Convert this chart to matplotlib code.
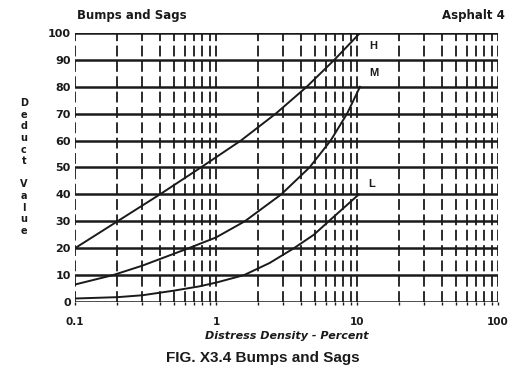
import matplotlib
matplotlib.use("Agg")
import matplotlib.pyplot as plt

# ---- data ----
density_H = [0.1, 0.2, 0.4, 0.78, 1.5, 2.65, 4.4, 6.9, 10.5]
deduct_H = [20, 30, 40, 50, 60, 70, 80, 90, 100]
density_M = [0.1, 0.186, 0.3, 0.64, 1.0, 1.6, 2.9, 4.6, 6.5, 8.5, 10.5]
deduct_M = [6.5, 10, 13.5, 20, 24, 30, 40, 50, 60, 70, 80]
density_L = [0.1, 0.2, 0.3, 0.5, 0.76, 1.0, 1.58, 2.4, 3.57, 4.94, 6.3, 10.3]
deduct_L = [1.3, 1.8, 2.5, 4.2, 5.8, 7.2, 10, 14.5, 20, 25, 30, 40]

y_ticks = [0, 10, 20, 30, 40, 50, 60, 70, 80, 90, 100]
x_ticks = [0.1, 1, 10, 100]
x_tick_labels = ["0.1", "1", "10", "100"]
curve_labels = ["H", "M", "L"]
label_pos = [(12.3, 95), (12.3, 85), (12.0, 44)]

ink = "#1a1a1a"
fam = ["Liberation Sans", "DejaVu Sans"]

fig = plt.figure(figsize=(5.10, 3.72), dpi=100)
ax = fig.add_axes([75/510, 1-302/372, 423/510, 269/372])
ax.set_xscale("log")
ax.set_xlim(0.1, 100)
ax.set_ylim(0, 100)

# vertical broken grid lines
vx = []
for dec in [0.1, 1, 10]:
    for k in range(1, 10):
        vx.append(dec * k)
vx.append(100)
for v in vx:
    ax.axvline(v, color=ink, lw=1.3, ls=(0, (6, 2.5)), zorder=1)

# horizontal solid grid lines
for yv in y_ticks:
    ax.axhline(yv, color=ink, lw=1.8, zorder=2)

for s in ax.spines.values():
    s.set_visible(False)

for dx, dy in [(density_H, deduct_H), (density_M, deduct_M), (density_L, deduct_L)]:
    ax.plot(dx, dy, color=ink, lw=1.4, zorder=3)

for lab, (lx, ly) in zip(curve_labels, label_pos):
    ax.text(lx, ly, lab, fontsize=8, fontweight="bold", color=ink,
            va="center", ha="left", family=fam)

ax.set_yticks(y_ticks)
ax.set_yticklabels([str(v) for v in y_ticks], fontsize=8, fontweight="bold",
                   family=["DejaVu Sans"], color=ink)
ax.set_xticks(x_ticks)
ax.set_xticklabels(x_tick_labels, fontsize=7.5, fontweight="bold",
                   family=["DejaVu Sans"], color=ink)
ax.tick_params(axis="y", length=0, pad=3, colors=ink)
ax.tick_params(axis="x", which="major", length=2, width=1, pad=9, colors=ink)
ax.tick_params(axis="x", which="minor", length=2, width=1, colors=ink, labelbottom=False)

ax.set_xlabel("Distress Density - Percent", fontsize=8, fontweight="bold",
              style="italic", family=["DejaVu Sans"], color=ink, labelpad=3)

fig.text(24/510, 1-167/372, "D\ne\nd\nu\nc\nt\n\nV\na\nl\nu\ne",
         fontsize=7, fontweight="bold", family=["DejaVu Sans"], color=ink,
         ha="center", va="center", linespacing=1.2)

fig.text(77/510, 1-16/372, "Bumps and Sags", fontsize=8.5, fontweight="bold",
         family=["DejaVu Sans"], color=ink, ha="left", va="center")
fig.text(505/510, 1-16/372, "Asphalt 4", fontsize=8.5, fontweight="bold",
         family=["DejaVu Sans"], color=ink, ha="right", va="center")
fig.text(263/510, 1-358/372, "FIG. X3.4 Bumps and Sags", fontsize=11,
         fontweight="bold", family=fam, color=ink, ha="center", va="center")

fig.savefig("out.png", dpi=100, facecolor="white")
